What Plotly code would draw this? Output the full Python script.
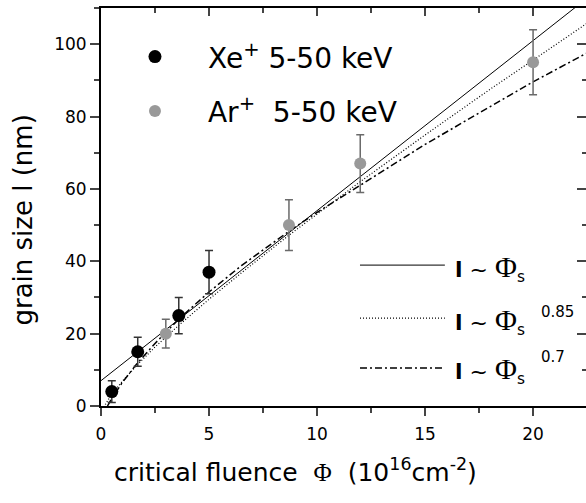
import plotly.graph_objects as go

xe_fluence = [0.5, 1.7, 3.6, 5.0]
xe_size = [4, 15, 25, 37]
xe_err = [3, 4, 5, 6]

ar_fluence = [3.0, 8.7, 12.0, 20.0]
ar_size = [20, 50, 67, 95]
ar_err = [4, 7, 8, 9]

# fit curves, values
lin_x = [0.0, 22.6]
lin_y = [7.0, 113.2]

p085_x = [0.2, 0.5, 1, 1.65, 2.5, 3.6, 5, 6.5, 8.7, 10, 12, 15, 18, 20, 22.6]
p085_y = [0.4, 3.3, 6.9, 11.2, 16.3, 22.3, 29.5, 36.8, 47.2, 53.1, 62.0, 74.9, 87.5, 95.6, 106.2]

p07_x = [0.3, 0.5, 1, 1.65, 2.5, 3.6, 5, 6.5, 8.7, 10, 12, 15, 18, 20, 22.6]
p07_y = [0.0, 2.1, 6.6, 11.6, 17.3, 24.0, 31.5, 38.8, 48.3, 53.5, 61.0, 72.3, 82.7, 89.6, 97.9]

x_range = [0, 22.45]
y_range = [0, 110]

FONT = "DejaVu Sans"
GRAY = "#999999"

fig = go.Figure()

# fits
fig.add_trace(go.Scatter(x=lin_x, y=lin_y, mode="lines", showlegend=False,
                         line=dict(color="black", width=1)))
fig.add_trace(go.Scatter(x=p085_x, y=p085_y, mode="lines", showlegend=False,
                         line=dict(color="black", width=1.2, dash="1px,2px")))
fig.add_trace(go.Scatter(x=p07_x, y=p07_y, mode="lines", showlegend=False,
                         line=dict(color="black", width=1.5, dash="7px,3px,2px,3px")))

# data with error bars
fig.add_trace(go.Scatter(x=xe_fluence, y=xe_size, mode="markers", showlegend=False,
                         marker=dict(color="black", size=13),
                         error_y=dict(type="data", array=xe_err, color="#333333",
                                      thickness=1.5, width=4)))
fig.add_trace(go.Scatter(x=ar_fluence, y=ar_size, mode="markers", showlegend=False,
                         marker=dict(color=GRAY, size=12),
                         error_y=dict(type="data", array=ar_err, color="#6a6a6a",
                                      thickness=1.5, width=4)))

# legend entries
fig.add_trace(go.Scatter(x=[None], y=[None], mode="markers", name="Xe<sup>+</sup> 5-50 keV",
                         marker=dict(color="black", size=13), legendgroup="xe"))
fig.add_trace(go.Scatter(x=[None], y=[None], mode="markers", name="Ar<sup>+</sup>  5-50 keV",
                         marker=dict(color=GRAY, size=12), legendgroup="ar"))

# empty trace so that the mirrored top/right axes are drawn
fig.add_trace(go.Scatter(x=[None], y=[None], xaxis="x2", yaxis="y2",
                         showlegend=False, hoverinfo="skip"))

# legend for the fit lines (sample strokes + labels)
rows = [(0.354, "solid", 1),
        (0.221, "1px,2px", 1.2),
        (0.0955, "7px,3px,2px,3px", 1.5)]
shapes = []
for yy, dash, w in rows:
    shapes.append(dict(type="line", xref="paper", yref="paper", x0=0.534, x1=0.709,
                       y0=yy, y1=yy, line=dict(color="black", width=w, dash=dash)))

lbl = ("<b>l</b> ~ <span style='font-family:Liberation Serif;font-size:30px'>\u03a6</span>"
       "<sub>s</sub>")
annos = []
for yy in [0.347, 0.214, 0.09]:
    annos.append(dict(xref="paper", yref="paper", x=0.725, y=yy, xanchor="left",
                      yanchor="middle", text=lbl, showarrow=False,
                      font=dict(family=FONT, size=22, color="black")))
for txt, yy in [("0.85", 0.236), ("0.7", 0.123)]:
    annos.append(dict(xref="paper", yref="paper", x=0.903, y=yy, xanchor="left",
                      yanchor="middle", text=txt, showarrow=False,
                      font=dict(family=FONT, size=15, color="black")))

# axis titles
annos.append(dict(xref="paper", yref="paper", x=-0.160, y=0.467, textangle=-90,
                  xanchor="center", yanchor="middle",
                  text="grain size l (nm)", showarrow=False,
                  font=dict(family=FONT, size=26, color="black")))
annos.append(dict(xref="paper", yref="paper", x=0.402, y=-0.161,
                  xanchor="center", yanchor="middle",
                  text="critical fluence  <span style='font-family:Liberation Serif'>\u03a6</span>"
                       "  (10<sup>16</sup>cm<sup>-2</sup>)",
                  showarrow=False, font=dict(family=FONT, size=25, color="black")))

tick_font = dict(family=FONT, size=17, color="black")

fig.update_layout(
    width=586, height=503,
    margin=dict(l=101, r=0, t=8, b=97),
    paper_bgcolor="white", plot_bgcolor="white",
    font=dict(family=FONT, color="black"),
    shapes=shapes, annotations=annos,
    showlegend=True,
    legend=dict(x=0.002, y=0.94, xanchor="left", yanchor="top", itemwidth=96,
                bgcolor="rgba(0,0,0,0)", font=dict(family=FONT, size=28),
                tracegroupgap=15, traceorder="grouped"),
    xaxis=dict(range=x_range, showgrid=False, zeroline=False, showline=True,
               linecolor="black", linewidth=2, ticks="outside", ticklen=8, tickwidth=2,
               dtick=5, tick0=0, tickfont=tick_font, ticklabelstandoff=4,
               minor=dict(ticks="outside", ticklen=5, tickwidth=1.5, dtick=2.5,
                          showgrid=False)),
    yaxis=dict(range=y_range, showgrid=False, zeroline=False, showline=True,
               linecolor="black", linewidth=2, ticks="outside", ticklen=9, tickwidth=2,
               dtick=20, tick0=0, tickfont=tick_font,
               minor=dict(ticks="outside", ticklen=5, tickwidth=1.5, dtick=10,
                          showgrid=False)),
    xaxis2=dict(range=x_range, overlaying="x", side="top", anchor="y2", showgrid=False,
                zeroline=False, showline=True, linecolor="black", linewidth=2,
                ticks="inside", ticklen=8, tickwidth=2, dtick=5, tick0=0,
                showticklabels=False,
                minor=dict(ticks="inside", ticklen=5, tickwidth=1.5, dtick=2.5,
                           showgrid=False)),
    yaxis2=dict(range=y_range, overlaying="y", side="right", anchor="x2", showgrid=False,
                zeroline=False, showline=False, ticks="inside", ticklen=9, tickwidth=2,
                dtick=20, tick0=0, showticklabels=False,
                minor=dict(ticks="inside", ticklen=4, tickwidth=1.5, dtick=10,
                           showgrid=False)),
)

fig.write_html("out.html", config={"displayModeBar": False},
               post_script="document.body.style.margin='0';document.body.style.overflow='hidden';")
